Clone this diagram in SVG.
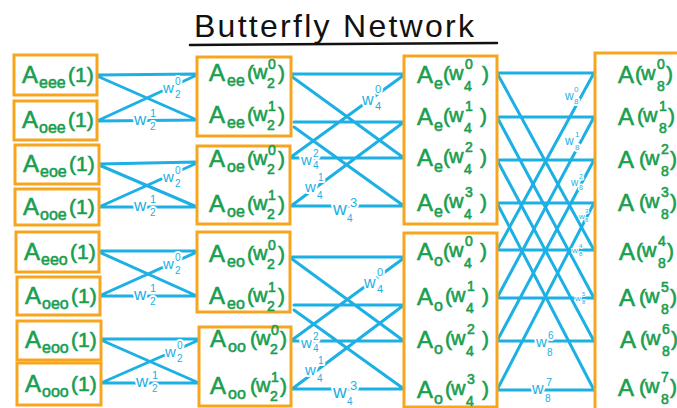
<svg xmlns="http://www.w3.org/2000/svg" width="677" height="408" viewBox="0 0 677 408">
<style>
.box{fill:#fff;stroke:#f7a51e;stroke-width:3}
.t{font-family:"Liberation Sans",Arial,sans-serif;fill:#1a9e4f;stroke:#1a9e4f;stroke-width:0.6}
.A{font-size:24px}.s{font-size:16px}.p{font-size:21px}.w{font-size:20px}.n{font-size:14px}
.ln{stroke:#1cb0e4;stroke-width:3;fill:none;stroke-linecap:round}
.wl{font-family:"Liberation Sans",Arial,sans-serif;fill:#1cb0e4;stroke:#fff;stroke-width:4;paint-order:stroke;stroke-linejoin:round}
.title{font-family:"Liberation Sans",Arial,sans-serif;font-size:32px;fill:#111}
</style>
<rect width="677" height="408" fill="#fff"/>
<g id="title">
<text class="title" x="194" y="37" textLength="280" lengthAdjust="spacing">Butterfly Network</text>
<path d="M190 45 L497 43" stroke="#111" stroke-width="2.5" fill="none" stroke-linecap="round"/>
</g>

<g id="connectors">
<g id="stage1">
<path class="ln" d="M97 75 L197 74 M97 76 L197 120 M97 121 L197 75 M97 121 L197 120"/>
<path class="ln" d="M99 164 L197 162 M99 165 L197 207 M99 207 L197 163 M99 207 L197 207"/>
<path class="ln" d="M99 251 L197 251 M99 252 L197 296 M99 296 L197 252 M99 296 L197 296"/>
<path class="ln" d="M101 339 L199 339 M101 340 L199 383 M101 383 L199 340 M101 383 L199 383"/>
</g>
<g id="stage2">
<path class="ln" d="M291 74 L404 74 M291 76 L404 158 M294 122 L404 122 M294 127 L404 206 M291 157 L404 75 M291 158 L404 158 M291 206 L404 122 M291 206 L404 206"/>
<path class="ln" d="M292 257 L404 257 M292 259 L404 341 M294 305 L404 305 M294 310 L404 389 M292 340 L404 258 M292 341 L404 341 M292 389 L404 305 M292 389 L404 389"/>
</g>
<g id="stage3">
<path class="ln" d="M497 73 L594 73 M497 73 L594 250 M497 117 L594 117 M497 117 L594 298 M497 160 L594 160 M497 160 L594 341 M497 203 L594 203 M497 203 L594 390"/>
<path class="ln" d="M497 250 L594 250 M497 250 L594 73 M497 298 L594 298 M497 298 L594 117 M497 341 L594 341 M497 341 L594 160 M497 390 L594 390 M497 390 L594 203"/>
</g>
<g id="weights">
<text class="wl"><tspan x="163" y="93" font-size="15">w</tspan><tspan x="175" y="85" font-size="10">0</tspan><tspan x="175" y="98" font-size="10">2</tspan></text>
<text class="wl"><tspan x="134" y="125" font-size="17">w</tspan><tspan x="150" y="117" font-size="11">1</tspan><tspan x="150" y="130" font-size="10">2</tspan></text>
<text class="wl"><tspan x="163" y="182" font-size="15">w</tspan><tspan x="175" y="174" font-size="10">0</tspan><tspan x="175" y="187" font-size="10">2</tspan></text>
<text class="wl"><tspan x="134" y="211" font-size="17">w</tspan><tspan x="150" y="203" font-size="11">1</tspan><tspan x="150" y="216" font-size="10">2</tspan></text>
<text class="wl"><tspan x="163" y="269" font-size="15">w</tspan><tspan x="175" y="261" font-size="10">0</tspan><tspan x="175" y="274" font-size="10">2</tspan></text>
<text class="wl"><tspan x="134" y="300" font-size="17">w</tspan><tspan x="150" y="292" font-size="11">1</tspan><tspan x="150" y="305" font-size="10">2</tspan></text>
<text class="wl"><tspan x="165" y="357" font-size="15">w</tspan><tspan x="177" y="349" font-size="10">0</tspan><tspan x="177" y="362" font-size="10">2</tspan></text>
<text class="wl"><tspan x="136" y="387" font-size="17">w</tspan><tspan x="152" y="379" font-size="11">1</tspan><tspan x="152" y="392" font-size="10">2</tspan></text>
<text class="wl"><tspan x="362" y="105" font-size="16">w</tspan><tspan x="375" y="93" font-size="11">0</tspan><tspan x="375" y="110" font-size="11">4</tspan></text>
<text class="wl"><tspan x="301" y="165" font-size="15">w</tspan><tspan x="313" y="157" font-size="10">2</tspan><tspan x="313" y="169" font-size="10">4</tspan></text>
<text class="wl"><tspan x="305" y="192" font-size="15">w</tspan><tspan x="318" y="181" font-size="10">1</tspan><tspan x="317" y="199" font-size="10">4</tspan></text>
<text class="wl"><tspan x="333" y="215" font-size="19">w</tspan><tspan x="350" y="207" font-size="13">3</tspan><tspan x="347" y="222" font-size="10">4</tspan></text>
<text class="wl"><tspan x="364" y="288" font-size="16">w</tspan><tspan x="377" y="276" font-size="11">0</tspan><tspan x="377" y="293" font-size="11">4</tspan></text>
<text class="wl"><tspan x="301" y="348" font-size="15">w</tspan><tspan x="313" y="340" font-size="10">2</tspan><tspan x="313" y="352" font-size="10">4</tspan></text>
<text class="wl"><tspan x="305" y="375" font-size="15">w</tspan><tspan x="318" y="364" font-size="10">1</tspan><tspan x="317" y="382" font-size="10">4</tspan></text>
<text class="wl"><tspan x="333" y="398" font-size="19">w</tspan><tspan x="350" y="390" font-size="13">3</tspan><tspan x="347" y="405" font-size="10">4</tspan></text>
<text class="wl"><tspan x="565" y="100" font-size="12">w</tspan><tspan x="574" y="92" font-size="8">0</tspan><tspan x="574" y="104" font-size="8">8</tspan></text>
<text class="wl"><tspan x="565" y="145" font-size="12">w</tspan><tspan x="575" y="137" font-size="8">1</tspan><tspan x="575" y="150" font-size="8">8</tspan></text>
<text class="wl" style="stroke-width:3"><tspan x="571" y="186" font-size="10">w</tspan><tspan x="579" y="179" font-size="7">2</tspan><tspan x="579" y="190" font-size="7">8</tspan></text>
<text class="wl" style="stroke-width:2"><tspan x="579" y="219" font-size="8">w</tspan><tspan x="585" y="213" font-size="6">3</tspan><tspan x="585" y="222" font-size="6">8</tspan></text>
<text class="wl" style="stroke-width:2"><tspan x="572" y="253" font-size="8">w</tspan><tspan x="579" y="248" font-size="6">4</tspan><tspan x="579" y="256" font-size="6">8</tspan></text>
<text class="wl" style="stroke-width:2"><tspan x="575" y="301" font-size="8">w</tspan><tspan x="582" y="296" font-size="6">5</tspan><tspan x="582" y="304" font-size="6">8</tspan></text>
<text class="wl"><tspan x="536" y="347" font-size="15">w</tspan><tspan x="548" y="339" font-size="10">6</tspan><tspan x="547" y="356" font-size="10">8</tspan></text>
<text class="wl"><tspan x="532" y="394" font-size="16">w</tspan><tspan x="546" y="386" font-size="11">7</tspan><tspan x="545" y="402" font-size="10">8</tspan></text>
</g>
</g>

<g id="a-eee"><rect class="box" x="14" y="55" width="83" height="40"/><text class="t"><tspan class="A" x="22" y="83">A</tspan><tspan class="s" x="39" y="88">eee</tspan><tspan class="p" x="68" y="82">(1)</tspan></text></g>
<g id="a-oee"><rect class="box" x="14" y="101" width="83" height="39"/><text class="t"><tspan class="A" x="22" y="128">A</tspan><tspan class="s" x="39" y="133">oee</tspan><tspan class="p" x="68" y="127">(1)</tspan></text></g>
<g id="a-eoe"><rect class="box" x="15" y="145" width="84" height="39"/><text class="t"><tspan class="A" x="23" y="172">A</tspan><tspan class="s" x="40" y="177">eoe</tspan><tspan class="p" x="69" y="171">(1)</tspan></text></g>
<g id="a-ooe"><rect class="box" x="15" y="189" width="84" height="36"/><text class="t"><tspan class="A" x="23" y="215">A</tspan><tspan class="s" x="40" y="220">ooe</tspan><tspan class="p" x="69" y="214">(1)</tspan></text></g>
<g id="a-eeo"><rect class="box" x="16" y="232" width="83" height="40"/><text class="t"><tspan class="A" x="24" y="260">A</tspan><tspan class="s" x="41" y="265">eeo</tspan><tspan class="p" x="70" y="259">(1)</tspan></text></g>
<g id="a-oeo"><rect class="box" x="17" y="277" width="83" height="38"/><text class="t"><tspan class="A" x="25" y="304">A</tspan><tspan class="s" x="42" y="309">oeo</tspan><tspan class="p" x="71" y="303">(1)</tspan></text></g>
<g id="a-eoo"><rect class="box" x="17" y="321" width="84" height="39"/><text class="t"><tspan class="A" x="25" y="348">A</tspan><tspan class="s" x="42" y="353">eoo</tspan><tspan class="p" x="71" y="347">(1)</tspan></text></g>
<g id="a-ooo"><rect class="box" x="17" y="363" width="84" height="42"/><text class="t"><tspan class="A" x="25" y="392">A</tspan><tspan class="s" x="42" y="397">ooo</tspan><tspan class="p" x="71" y="391">(1)</tspan></text></g>

<g id="a-ee"><rect class="box" x="197" y="57" width="94" height="79"/>
<text class="t"><tspan class="A" x="209" y="81">A</tspan><tspan class="s" x="227" y="86">ee</tspan><tspan class="p" x="247" y="80">(</tspan><tspan class="w" x="253" y="79">w</tspan><tspan class="n" x="268" y="69">0</tspan><tspan class="n" x="267" y="88">2</tspan><tspan class="p" x="278" y="80">)</tspan></text>
<text class="t"><tspan class="A" x="209" y="123">A</tspan><tspan class="s" x="227" y="128">ee</tspan><tspan class="p" x="247" y="122">(</tspan><tspan class="w" x="253" y="121">w</tspan><tspan class="n" x="268" y="111">1</tspan><tspan class="n" x="267" y="130">2</tspan><tspan class="p" x="278" y="122">)</tspan></text></g>
<g id="a-oe"><rect class="box" x="197" y="146" width="93" height="78"/>
<text class="t"><tspan class="A" x="209" y="167">A</tspan><tspan class="s" x="227" y="172">oe</tspan><tspan class="p" x="247" y="166">(</tspan><tspan class="w" x="253" y="165">w</tspan><tspan class="n" x="268" y="155">0</tspan><tspan class="n" x="267" y="174">2</tspan><tspan class="p" x="278" y="166">)</tspan></text>
<text class="t"><tspan class="A" x="209" y="212">A</tspan><tspan class="s" x="227" y="217">oe</tspan><tspan class="p" x="247" y="211">(</tspan><tspan class="w" x="253" y="210">w</tspan><tspan class="n" x="268" y="200">1</tspan><tspan class="n" x="267" y="219">2</tspan><tspan class="p" x="278" y="211">)</tspan></text></g>
<g id="a-eo"><rect class="box" x="197" y="232" width="93" height="80"/>
<text class="t"><tspan class="A" x="209" y="262">A</tspan><tspan class="s" x="227" y="267">eo</tspan><tspan class="p" x="247" y="261">(</tspan><tspan class="w" x="253" y="260">w</tspan><tspan class="n" x="268" y="250">0</tspan><tspan class="n" x="267" y="269">2</tspan><tspan class="p" x="278" y="261">)</tspan></text>
<text class="t"><tspan class="A" x="209" y="304">A</tspan><tspan class="s" x="227" y="309">eo</tspan><tspan class="p" x="247" y="303">(</tspan><tspan class="w" x="253" y="302">w</tspan><tspan class="n" x="268" y="292">1</tspan><tspan class="n" x="267" y="311">2</tspan><tspan class="p" x="278" y="303">)</tspan></text></g>
<g id="a-oo"><rect class="box" x="199" y="327" width="92" height="79"/>
<text class="t"><tspan class="A" x="210" y="347">A</tspan><tspan class="s" x="228" y="352">oo</tspan><tspan class="p" x="250" y="346">(</tspan><tspan class="w" x="256" y="345">w</tspan><tspan class="n" x="271" y="335">0</tspan><tspan class="n" x="270" y="354">2</tspan><tspan class="p" x="280" y="346">)</tspan></text>
<text class="t"><tspan class="A" x="210" y="394">A</tspan><tspan class="s" x="228" y="399">oo</tspan><tspan class="p" x="250" y="393">(</tspan><tspan class="w" x="256" y="392">w</tspan><tspan class="n" x="271" y="382">1</tspan><tspan class="n" x="270" y="401">2</tspan><tspan class="p" x="280" y="393">)</tspan></text></g>

<g id="a-e"><rect class="box" x="404" y="56" width="93" height="168"/>
<text class="t"><tspan class="A" x="417" y="83">A</tspan><tspan class="s" x="434" y="89">e</tspan><tspan class="p" x="443" y="81">(</tspan><tspan class="w" x="449" y="80">w</tspan><tspan class="n" x="465" y="69">0</tspan><tspan class="n" x="464" y="91">4</tspan><tspan class="p" x="482" y="81">)</tspan></text>
<text class="t"><tspan class="A" x="417" y="125">A</tspan><tspan class="s" x="434" y="131">e</tspan><tspan class="p" x="443" y="123">(</tspan><tspan class="w" x="449" y="122">w</tspan><tspan class="n" x="465" y="111">1</tspan><tspan class="n" x="464" y="133">4</tspan><tspan class="p" x="480" y="123">)</tspan></text>
<text class="t"><tspan class="A" x="417" y="166">A</tspan><tspan class="s" x="434" y="172">e</tspan><tspan class="p" x="443" y="164">(</tspan><tspan class="w" x="449" y="163">w</tspan><tspan class="n" x="465" y="152">2</tspan><tspan class="n" x="464" y="174">4</tspan><tspan class="p" x="480" y="164">)</tspan></text>
<text class="t"><tspan class="A" x="417" y="211">A</tspan><tspan class="s" x="434" y="217">e</tspan><tspan class="p" x="443" y="209">(</tspan><tspan class="w" x="449" y="208">w</tspan><tspan class="n" x="465" y="197">3</tspan><tspan class="n" x="464" y="219">4</tspan><tspan class="p" x="480" y="209">)</tspan></text></g>
<g id="a-o"><rect class="box" x="404" y="233" width="93" height="174"/>
<text class="t"><tspan class="A" x="417" y="260">A</tspan><tspan class="s" x="434" y="266">o</tspan><tspan class="p" x="443" y="258">(</tspan><tspan class="w" x="449" y="257">w</tspan><tspan class="n" x="465" y="246">0</tspan><tspan class="n" x="464" y="268">4</tspan><tspan class="p" x="480" y="258">)</tspan></text>
<text class="t"><tspan class="A" x="417" y="305">A</tspan><tspan class="s" x="434" y="311">o</tspan><tspan class="p" x="445" y="303">(</tspan><tspan class="w" x="451" y="302">w</tspan><tspan class="n" x="467" y="291">1</tspan><tspan class="n" x="466" y="313">4</tspan><tspan class="p" x="482" y="303">)</tspan></text>
<text class="t"><tspan class="A" x="417" y="348">A</tspan><tspan class="s" x="434" y="354">o</tspan><tspan class="p" x="445" y="346">(</tspan><tspan class="w" x="451" y="345">w</tspan><tspan class="n" x="467" y="334">2</tspan><tspan class="n" x="466" y="356">4</tspan><tspan class="p" x="482" y="346">)</tspan></text>
<text class="t"><tspan class="A" x="417" y="398">A</tspan><tspan class="s" x="434" y="404">o</tspan><tspan class="p" x="445" y="396">(</tspan><tspan class="w" x="451" y="395">w</tspan><tspan class="n" x="467" y="384">3</tspan><tspan class="n" x="466" y="406">4</tspan><tspan class="p" x="482" y="396">)</tspan></text></g>

<g id="a-out"><rect class="box" x="595" y="53" width="100" height="370"/>
<text class="t"><tspan class="A" x="618" y="83">A</tspan><tspan class="p" x="635" y="81">(</tspan><tspan class="w" x="641" y="80">w</tspan><tspan class="n" x="657" y="69">0</tspan><tspan class="n" x="657" y="91">8</tspan><tspan class="p" x="666" y="81">)</tspan></text>
<text class="t"><tspan class="A" x="618" y="125">A</tspan><tspan class="p" x="637" y="123">(</tspan><tspan class="w" x="643" y="122">w</tspan><tspan class="n" x="659" y="111">1</tspan><tspan class="n" x="659" y="133">8</tspan><tspan class="p" x="668" y="123">)</tspan></text>
<text class="t"><tspan class="A" x="618" y="168">A</tspan><tspan class="p" x="639" y="166">(</tspan><tspan class="w" x="645" y="165">w</tspan><tspan class="n" x="661" y="154">2</tspan><tspan class="n" x="661" y="176">8</tspan><tspan class="p" x="670" y="166">)</tspan></text>
<text class="t"><tspan class="A" x="618" y="211">A</tspan><tspan class="p" x="639" y="209">(</tspan><tspan class="w" x="645" y="208">w</tspan><tspan class="n" x="661" y="197">3</tspan><tspan class="n" x="661" y="219">8</tspan><tspan class="p" x="670" y="209">)</tspan></text>
<text class="t"><tspan class="A" x="619" y="260">A</tspan><tspan class="p" x="636" y="258">(</tspan><tspan class="w" x="642" y="257">w</tspan><tspan class="n" x="658" y="246">4</tspan><tspan class="n" x="658" y="268">8</tspan><tspan class="p" x="667" y="258">)</tspan></text>
<text class="t"><tspan class="A" x="619" y="306">A</tspan><tspan class="p" x="639" y="304">(</tspan><tspan class="w" x="645" y="303">w</tspan><tspan class="n" x="661" y="292">5</tspan><tspan class="n" x="661" y="314">8</tspan><tspan class="p" x="670" y="304">)</tspan></text>
<text class="t"><tspan class="A" x="620" y="348">A</tspan><tspan class="p" x="640" y="346">(</tspan><tspan class="w" x="646" y="345">w</tspan><tspan class="n" x="662" y="334">6</tspan><tspan class="n" x="662" y="356">8</tspan><tspan class="p" x="671" y="346">)</tspan></text>
<text class="t"><tspan class="A" x="618" y="396">A</tspan><tspan class="p" x="639" y="394">(</tspan><tspan class="w" x="645" y="393">w</tspan><tspan class="n" x="661" y="382">7</tspan><tspan class="n" x="661" y="404">8</tspan><tspan class="p" x="670" y="394">)</tspan></text></g>
</svg>
